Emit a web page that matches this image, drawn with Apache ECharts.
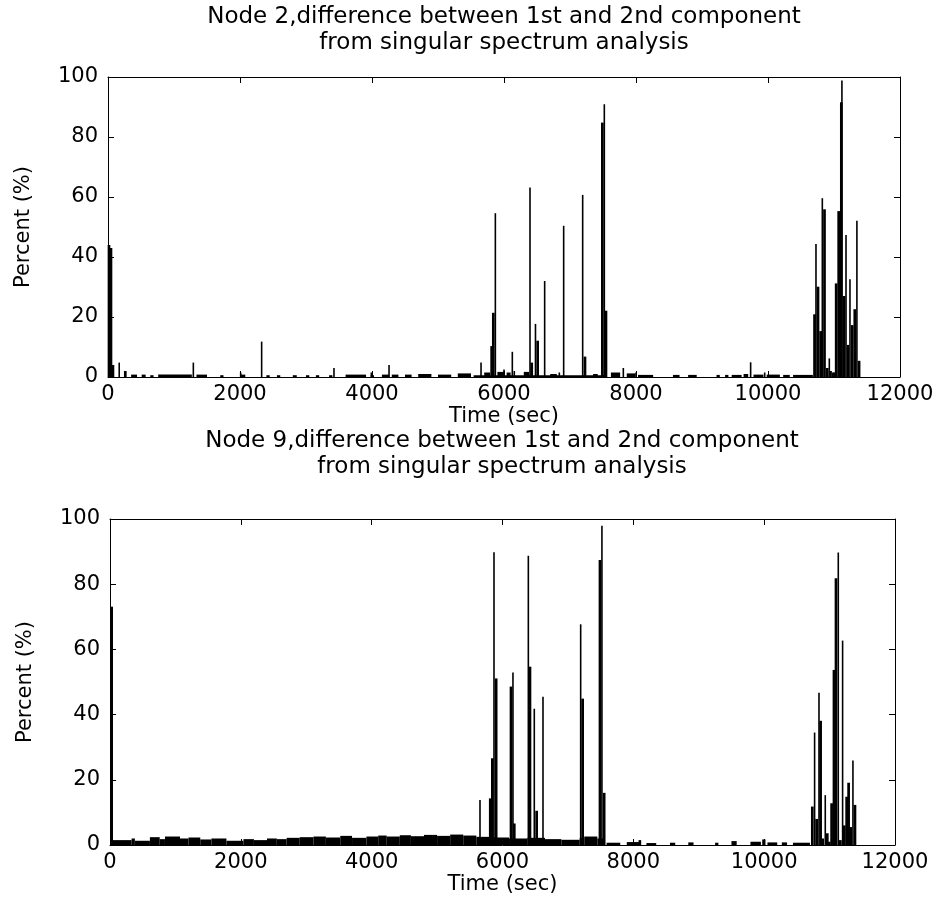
<!DOCTYPE html>
<html><head><meta charset="utf-8">
<script src="https://cdn.jsdelivr.net/npm/echarts/dist/echarts.min.js"></script>
<style>html,body{margin:0;padding:0;background:#fff}#c{width:938px;height:922px}</style>
</head><body><div id="c"></div><script>
// ---------- data ----------
const xTicks = [0, 2000, 4000, 6000, 8000, 10000, 12000];
const yTicks = [0, 20, 40, 60, 80, 100];
const titleTop = 'Node 2,difference between 1st and 2nd component\nfrom singular spectrum analysis';
const titleBottom = 'Node 9,difference between 1st and 2nd component\nfrom singular spectrum analysis';
const xName = 'Time (sec)';
const yName = 'Percent (%)';

// Node 2: wide bars [time, percent]
const node2Wide = [[15,44],[45,43],[75,4],[262,2],
  [5813,10.3],[5838,21.4],[6420,4.8],[6510,12.1],[7227,6.8],[7490,84.8],[7545,22.1],
  [10705,20.9],[10758,30.1],[10798,15.3],[10856,55.9],[10898,3],[10947,2],[10985,1.5],[11008,1.5],
  [11033,31.2],[11071,55.3],[11111,91.6],[11152,27],[11212,10.7],[11276,17.3],[11315,22.6],[11380,5.4]];
// Node 2: thin spikes [time, percent]
const node2Thin = [[170,4.8],[1293,4.8],[2010,1.5],[2328,11.8],[3424,3],[3990,1.5],[4258,4],
  [5652,4.8],[5869,54.6],[6000,2.5],[6126,8.4],[6156,2],[6394,63.2],[6477,17.7],[6616,32],[6838,1.5],
  [6904,50.4],[7192,60.7],[7520,90.9],[7808,3],[8000,1.5],[9737,4.9],[9950,1.5],
  [10727,44.3],[10823,59.6],[10929,6.2],[11120,98.8],[11182,47.3],[11242,32.6],[11347,52.1]];
// Node 2: low background level [from, to, percent]
const node2Base = [[350,440,0.8],[510,570,0.8],[640,690,0.6],[760,1270,0.8],[1340,1500,0.8],[1700,1750,0.6],
  [2000,2080,0.8],[2400,2450,0.6],[2560,2610,0.6],[2800,2860,0.6],[3000,3050,0.6],[3150,3200,0.6],
  [3350,3400,0.6],[3600,3910,0.8],[3980,4030,0.6],[4150,4260,0.8],[4300,4400,0.8],[4500,4600,0.8],
  [4700,4900,1.0],[5000,5200,0.8],[5300,5500,1.2],[5540,7560,0.6],[5700,5790,1.5],[5900,6000,1.7],
  [6040,6100,1.5],[6300,6380,1.7],[6700,6800,1.0],[7350,7420,1.0],[7620,7760,1.5],[7860,7990,1.2],
  [8030,8260,0.7],[8560,8660,0.7],[8790,8920,0.7],[9220,9270,0.7],[9350,9400,0.7],[9450,9600,0.7],
  [9630,9700,1.0],[9780,9930,0.8],[9980,10180,0.8],[10230,10330,0.7],[10380,10680,0.7]];

// Node 9: wide bars [time, percent]
const node9Wide = [[25,73.1],[5813,14.3],[5845,26.6],[5903,51.1],[6130,48.6],[6180,6.6],[6420,54.7],
  [6522,10.5],[7225,44.9],[7490,87.4],[7554,16],
  [10736,11.8],[10802,8],[10863,38.1],[10894,2],[10965,3.6],[10995,1],[11031,12.8],[11067,53.7],
  [11098,81.8],[11165,1.5],[11225,6],[11261,14.8],[11291,19.1],[11322,5.5],[11388,12.3]];
// Node 9: thin spikes [time, percent]
const node9Thin = [[5656,13.8],[5870,89.8],[6160,52.9],[6395,88.7],[6486,41.8],[6619,45.5],[7195,67.7],
  [7520,97.9],[10771,34.5],[10838,46.7],[10934,15.3],[11133,89.7],[11199,62.7],[11357,25.9]];
// Node 9: low background level [from, to, percent]
const node9Base = [[40,330,1.5],[330,380,2.0],[380,610,1.3],[610,760,2.4],[760,840,1.8],[840,1070,2.6],
  [1070,1200,2.0],[1200,1380,2.3],[1380,1550,1.7],[1550,1780,2.0],[1780,2040,1.3],[2040,2200,1.8],
  [2200,2400,1.5],[2400,2550,2.0],[2550,2700,1.8],[2700,2900,2.2],[2900,3110,2.4],[3110,3300,2.6],
  [3300,3520,2.3],[3520,3700,2.8],[3700,3920,2.2],[3920,4100,2.6],[4100,4230,2.9],[4230,4430,2.6],
  [4430,4600,3.0],[4600,4800,2.7],[4800,5000,3.1],[5000,5200,2.8],[5200,5400,3.2],[5400,5600,2.9],
  [5600,5800,2.5],[5800,6100,2.3],[6100,6380,2.0],[6380,6650,2.2],[6650,6900,1.8],[6900,7180,1.6],
  [7180,7250,2.2],[7250,7450,2.6],[7450,7560,2.0],
  [7590,7800,0.7],[7900,8100,0.9],[8080,8120,1.5],[8200,8350,0.6],[8560,8640,0.7],[8840,8920,0.8],
  [9250,9300,0.7],[9500,9580,1.2],[9790,9950,1.0],[9970,10020,1.7],[10050,10200,0.8],[10270,10350,0.8],
  [10440,10700,0.7]];

// ---------- chart ----------
const FONT = 'DejaVu Sans';
const FS = 21;
const TFS = 23;
const chart = echarts.init(document.getElementById('c'), null, {renderer: 'canvas'});

function xAxis(grid, pos, labels) {
  return {
    type: 'value', gridIndex: grid, position: pos,
    min: xTicks[0], max: xTicks[xTicks.length - 1], interval: xTicks[1] - xTicks[0],
    axisLine: {show: true, onZero: false, lineStyle: {color: '#000', width: 1}},
    axisTick: {show: true, inside: true, length: 6, lineStyle: {color: '#000', width: 1}},
    axisLabel: {show: labels, color: '#000', fontFamily: FONT, fontSize: FS, margin: 7,
      showMinLabel: true, showMaxLabel: true, formatter: v => String(v)},
    splitLine: {show: false},
    name: labels ? xName : '', nameLocation: 'middle', nameGap: 29,
    nameTextStyle: {color: '#000', fontFamily: FONT, fontSize: FS}
  };
}
function yAxis(grid, pos, labels) {
  return {
    type: 'value', gridIndex: grid, position: pos,
    min: yTicks[0], max: yTicks[yTicks.length - 1], interval: yTicks[1] - yTicks[0],
    axisLine: {show: true, onZero: false, lineStyle: {color: '#000', width: 1}},
    axisTick: {show: true, inside: true, length: 6, lineStyle: {color: '#000', width: 1}},
    axisLabel: {show: labels, color: '#000', fontFamily: FONT, fontSize: FS, margin: 10,
      showMinLabel: true, showMaxLabel: true, formatter: v => String(v)},
    splitLine: {show: false},
    name: labels ? yName : '', nameLocation: 'middle', nameGap: 74, nameRotate: 90,
    nameTextStyle: {color: '#000', fontFamily: FONT, fontSize: FS}
  };
}
function baseSeries(x, y, data) {
  return {
    type: 'custom', xAxisIndex: x, yAxisIndex: y, data: data, silent: true,
    encode: {x: [0, 1], y: 2},
    renderItem: function (params, api) {
      const p0 = api.coord([api.value(0), api.value(2)]);
      const p1 = api.coord([api.value(1), 0]);
      return {type: 'rect', shape: {x: p0[0], y: p0[1], width: p1[0] - p0[0], height: p1[1] - p0[1]},
        style: {fill: '#000'}};
    }
  };
}
function barSeries(x, y, data, w) {
  return {type: 'bar', xAxisIndex: x, yAxisIndex: y, data: data, barWidth: w, clip: true,
    itemStyle: {color: '#000'}, silent: true};
}

chart.setOption({
  animation: false,
  backgroundColor: '#fff',
  title: [
    {text: titleTop, left: 504, top: 4, textAlign: 'center', padding: 0,
      textStyle: {color: '#000', fontFamily: FONT, fontSize: TFS, fontWeight: 'normal', lineHeight: 26}},
    {text: titleBottom, left: 502, top: 428, textAlign: 'center', padding: 0,
      textStyle: {color: '#000', fontFamily: FONT, fontSize: TFS, fontWeight: 'normal', lineHeight: 26}}
  ],
  grid: [
    {left: 108, top: 77, width: 792, height: 300},
    {left: 110, top: 519, width: 785, height: 326}
  ],
  xAxis: [xAxis(0, 'bottom', true), xAxis(0, 'top', false), xAxis(1, 'bottom', true), xAxis(1, 'top', false)],
  yAxis: [yAxis(0, 'left', true), yAxis(0, 'right', false), yAxis(1, 'left', true), yAxis(1, 'right', false)],
  series: [
    baseSeries(0, 0, node2Base),
    barSeries(0, 0, node2Wide, 2.7),
    barSeries(1, 0, node2Thin, 1.6),
    baseSeries(2, 2, node9Base),
    barSeries(2, 2, node9Wide, 2.7),
    barSeries(3, 2, node9Thin, 1.6)
  ]
});
</script></body></html>
